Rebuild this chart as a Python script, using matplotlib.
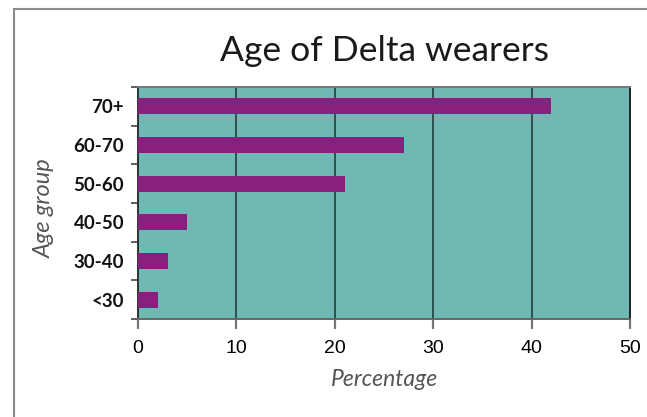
import matplotlib
matplotlib.use("Agg")
import matplotlib.pyplot as plt
from matplotlib.lines import Line2D

# Survey data: share of Delta wearers in each age band
age_groups = ["<30", "30-40", "40-50", "50-60", "60-70", "70+"]
percentages = [2, 3, 5, 21, 27, 42]
x_ticks = [0, 10, 20, 30, 40, 50]

BG = "#6fb9b5"
BAR = "#87207f"
GRID = "#284a48"

fig = plt.figure(figsize=(6.47, 4.17), dpi=100)
W, H = 647, 417
ax = fig.add_axes([138 / W, 1 - 319 / H, (630 - 138) / W, (319 - 87) / H])
ax.set_facecolor(BG)

pos = list(range(len(age_groups)))
ax.barh(pos, percentages, height=0.42, color=BAR, zorder=3)

ax.set_xlim(0, 50)
ax.set_ylim(-0.5, len(age_groups) - 0.5)
ax.set_xticks(x_ticks)
ax.set_xticklabels([str(t) for t in x_ticks], fontfamily="Liberation Sans", fontsize=14)
ax.set_yticks(pos)
ax.set_yticklabels(age_groups, fontfamily="Lato", fontweight="bold", fontsize=13.5,
                   color="#111111")
ax.set_yticks([p - 0.5 for p in pos] + [len(pos) - 0.5], minor=True)
ax.tick_params(axis="y", which="major", length=0, pad=10)
ax.tick_params(axis="y", which="minor", length=5, width=1.2, color="#444444")
ax.tick_params(axis="x", which="major", length=7, width=1.6, color="#777777", pad=8)

ax.grid(axis="x", color=GRID, linewidth=1.3, zorder=1)
ax.set_axisbelow(True)
for side, sp in ax.spines.items():
    sp.set_linewidth(1.4)
ax.spines["top"].set_color("#777777")
ax.spines["bottom"].set_color("#666666")
ax.spines["left"].set_color("#333333")
ax.spines["right"].set_color("#222222")

fig.text(384 / W, 1 - 51 / H, "Age of Delta wearers", ha="center", va="center",
         fontfamily="Lato", fontsize=25.5, color="#1a1a1a")
fig.text(385 / W, 1 - 379 / H, "Percentage", ha="center", va="center",
         fontfamily="Lato", fontstyle="italic", fontsize=16.5, color="#555555")
fig.text(44 / W, 1 - 208 / H, "Age group", ha="center", va="center", rotation=90,
         fontfamily="Lato", fontstyle="italic", fontsize=17, color="#555555")

# Outer frame (left and top edges)
fig.add_artist(Line2D([14 / W, 14 / W], [0, 1 - 9 / H], transform=fig.transFigure,
                      color="#8a8a8a", linewidth=1.5))
fig.add_artist(Line2D([14 / W, 1], [1 - 9 / H, 1 - 9 / H], transform=fig.transFigure,
                      color="#8a8a8a", linewidth=1.5))

fig.savefig("out.png", dpi=100)
